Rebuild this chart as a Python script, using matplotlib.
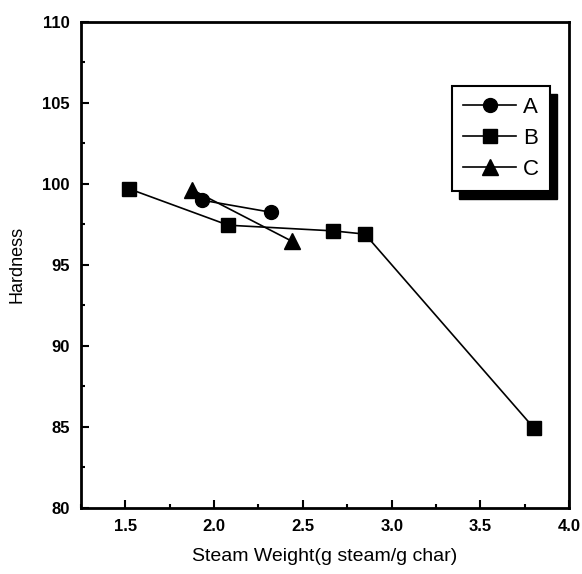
import matplotlib; matplotlib.use("Agg")
import matplotlib.pyplot as plt
from matplotlib.patches import Rectangle
from matplotlib.ticker import MultipleLocator

plt.rcParams["font.family"] = ["Liberation Sans", "DejaVu Sans"]

# series
A_X = [1.93, 2.32]
A_Y = [99.0, 98.25]
B_X = [1.52, 2.08, 2.67, 2.85, 3.80]
B_Y = [99.7, 97.45, 97.1, 96.9, 84.95]
C_X = [1.875, 2.44]
C_Y = [99.65, 96.45]

fig = plt.figure(figsize=(5.82, 5.74), dpi=100)
ax = fig.add_axes([0.139, 0.115, 0.839, 0.847])

kw = dict(color="black", lw=1.2, markersize=10)
ax.plot(A_X, A_Y, marker="o", label="A", **kw)
ax.plot(B_X, B_Y, marker="s", label="B", **kw)
ax.plot(C_X, C_Y, marker="^", label="C", **dict(kw, markersize=11))

ax.set_xlim(1.25, 4.0)
ax.set_ylim(80, 110)
ax.xaxis.set_major_locator(MultipleLocator(0.5))
ax.xaxis.set_minor_locator(MultipleLocator(0.25))
ax.yaxis.set_major_locator(MultipleLocator(5))
ax.yaxis.set_minor_locator(MultipleLocator(2.5))
ax.tick_params(which="both", direction="in", top=False, right=False, width=1.5)
ax.tick_params(which="major", length=6, labelsize=12, pad=8)
ax.tick_params(which="minor", length=3)
for t in ax.get_xticklabels() + ax.get_yticklabels():
    t.set_fontweight("bold")
for s in ax.spines.values():
    s.set_linewidth(2)

ax.set_xlabel("Steam Weight(g steam/g char)", fontsize=14, labelpad=10)
ax.set_ylabel("Hardness", fontsize=13, labelpad=12)

leg = ax.legend(loc="upper left", bbox_to_anchor=(0.76, 0.868), fontsize=16,
                frameon=True, fancybox=False, edgecolor="black", facecolor="white",
                framealpha=1, handlelength=2.4, handletextpad=0.3,
                labelspacing=0.45, borderpad=0.5, borderaxespad=0)
leg.get_frame().set_linewidth(1.5)
leg.set_zorder(6)

# solid black drop shadow behind the legend box
fig.canvas.draw()
bb = leg.get_window_extent().transformed(ax.transAxes.inverted())
dx, dy = 7 / 488, 8 / 486
ax.add_patch(Rectangle((bb.x0 + dx, bb.y0 - dy), bb.width, bb.height,
                       transform=ax.transAxes, color="black", zorder=5,
                       clip_on=False))

fig.savefig("out.png", dpi=100)
